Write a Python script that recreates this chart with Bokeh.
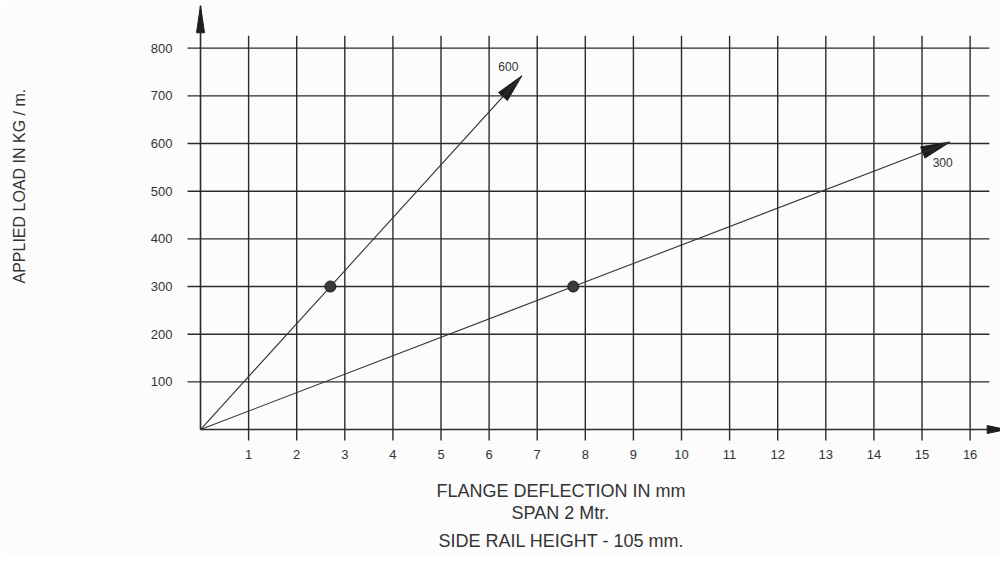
import math
from bokeh.plotting import figure
from bokeh.models import Range1d, FixedTicker, Title
from bokeh.core.properties import value
from bokeh.embed import file_html
from bokeh.resources import INLINE

# ---- data ----
x_ticks = list(range(1, 17))
y_ticks = [100, 200, 300, 400, 500, 600, 700, 800]

deflection_600 = [0, 2.7, 6.68]
load_600 = [0, 300, 742]
deflection_300 = [0, 7.75, 15.58]
load_300 = [0, 300, 603]

marked_x = [2.7, 7.75]
marked_y = [300, 300]

series_labels = ["600", "300"]
series_label_x = [6.40, 15.43]
series_label_y = [761, 560]

y_title = "APPLIED LOAD IN KG / m."
x_title_lines = ["FLANGE DEFLECTION IN mm", "SPAN 2 Mtr.", "SIDE RAIL HEIGHT - 105 mm."]

# ---- layout ----
W, H = 1000, 558
ML, MB = 185, 114
X0 = -0.312
X1 = X0 + (W - ML) / 48.1
Y1 = 900.0
Y0 = Y1 - (H - MB) / 0.4767
SX = (W - ML) / (X1 - X0)
SY = (H - MB) / (Y1 - Y0)

FONT = "Liberation Sans"
INK = "#2b2b2b"
TXT = "#333333"

p = figure(width=W, height=H, output_backend="svg", toolbar_location=None,
           x_range=Range1d(X0, X1), y_range=Range1d(Y0, Y1),
           min_border_left=ML, min_border_right=0, min_border_top=0,
           min_border_bottom=MB)
p.outline_line_color = None
p.background_fill_color = "#fcfcfc"
p.border_fill_color = "#fcfcfc"
p.xgrid.visible = False
p.ygrid.visible = False

for ax, ticks, standoff in ((p.xaxis[0], x_ticks, -1), (p.yaxis[0], y_ticks, 7)):
    ax.ticker = FixedTicker(ticks=ticks)
    ax.axis_line_color = None
    ax.major_tick_line_color = None
    ax.minor_tick_line_color = None
    ax.major_label_standoff = standoff
    ax.major_label_text_font = FONT
    ax.major_label_text_font_size = "13px"
    ax.major_label_text_color = TXT
    ax.axis_label = " "
    ax.axis_label_text_font_size = "10px"

# spacing so that the titles sit where the reference has them
p.xaxis[0].axis_label_standoff = 5
p.yaxis[0].axis_label_standoff = 106

# grid lines
GRID_W = 1.4
p.segment(x0=[-0.27] * len(y_ticks), y0=y_ticks, x1=[16.4] * len(y_ticks), y1=y_ticks,
          line_color=INK, line_width=GRID_W)
p.segment(x0=x_ticks, y0=[-23] * len(x_ticks), x1=x_ticks, y1=[826] * len(x_ticks),
          line_color=INK, line_width=GRID_W)

# axes with arrows
X_TIP = 16.75
Y_TIP = 889
p.segment(x0=[0, 0], y0=[0, 0], x1=[X_TIP, 0], y1=[0, Y_TIP], line_color=INK, line_width=1.6)


def head(xa, ya, xt, yt, length, half):
    dx = (xt - xa) * SX
    dy = (yt - ya) * SY
    n = math.hypot(dx, dy)
    ux, uy = dx / n, dy / n
    bx, by = xt * SX - ux * length, yt * SY - uy * length
    px, py = -uy, ux
    xs = [xt, (bx + px * half) / SX, (bx - px * half) / SX]
    ys = [yt, (by + py * half) / SY, (by - py * half) / SY]
    return xs, ys


heads = [
    head(0, 0, X_TIP, 0, 19, 4),
    head(0, 0, 0, Y_TIP, 27, 4),
    head(deflection_600[0], load_600[0], deflection_600[-1], load_600[-1], 28, 6),
    head(deflection_300[0], load_300[0], deflection_300[-1], load_300[-1], 29, 6),
]
p.patches(xs=[h[0] for h in heads], ys=[h[1] for h in heads],
          fill_color="#1e1e1e", line_color="#1e1e1e", line_width=1)

# data lines
p.line(deflection_600, load_600, line_color=TXT, line_width=1.1)
p.line(deflection_300, load_300, line_color=TXT, line_width=1.1)
p.scatter(marked_x, marked_y, size=11, fill_color="#3a3a3a", line_color="#1a1a1a", line_width=1)

p.text(x=series_label_x, y=series_label_y, text=series_labels,
       text_font=value(FONT), text_font_size="12px", text_color=TXT,
       text_align="center", text_baseline="middle")

# titles
p.add_layout(Title(text=y_title, align="left", offset=161, vertical_align="bottom",
                   standoff=0, text_font=FONT, text_font_size="16px",
                   text_font_style="normal", text_color=TXT), "left")

offsets = [251, 326, 253]
standoffs = [0, 0, 12]
for txt, off, so in zip(x_title_lines, offsets, standoffs):
    p.add_layout(Title(text=txt, align="left", offset=off, vertical_align="top",
                       standoff=so, text_font=FONT, text_font_size="18px",
                       text_font_style="normal", text_color=TXT), "below")

open("out.html", "w").write(file_html(p, INLINE, title="Flange deflection"))
